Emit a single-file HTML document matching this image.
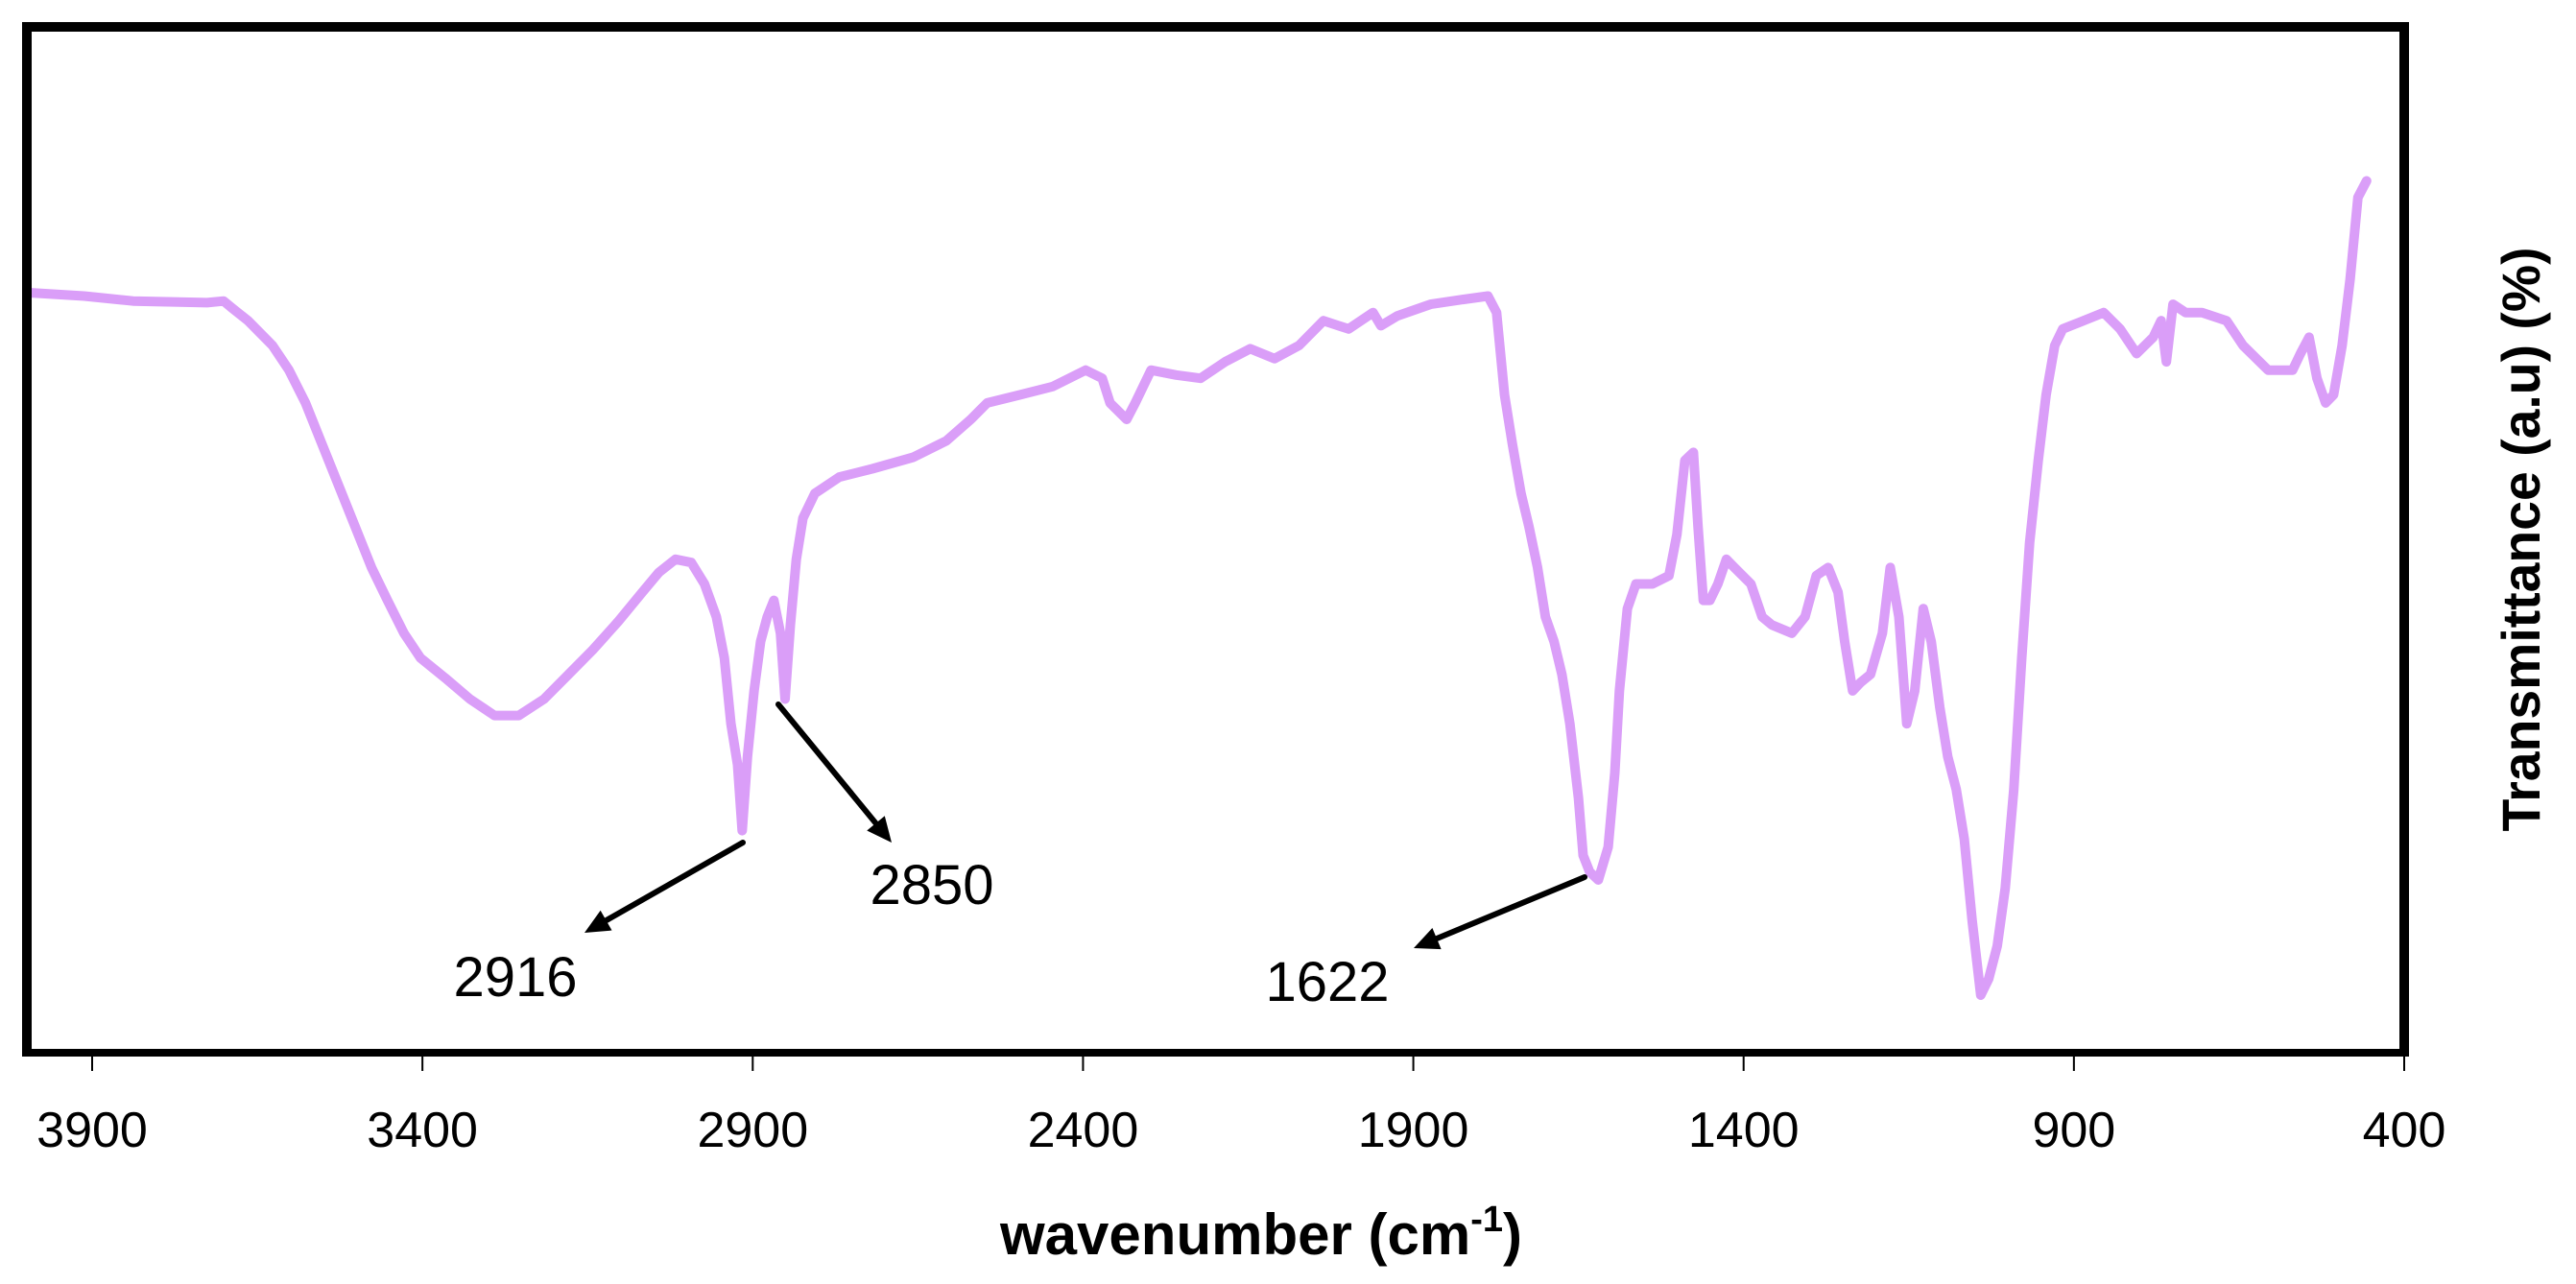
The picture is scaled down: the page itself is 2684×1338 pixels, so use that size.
<!DOCTYPE html>
<html><head><meta charset="utf-8"><style>
html,body{margin:0;padding:0;background:#fff;}
svg{display:block;}
text{font-family:"Liberation Sans",Arial,sans-serif;fill:#000;}
</style></head><body>
<svg id="chart" width="2684" height="1338" viewBox="0 0 2684 1338" xmlns="http://www.w3.org/2000/svg">
<rect x="0" y="0" width="2684" height="1338" fill="#fff"/>
<g id="plot"></g>
<g id="frame">
<rect x="23" y="23" width="2487" height="10" fill="#000"/>
<rect x="23" y="23" width="10" height="1078" fill="#000"/>
<rect x="23" y="1093" width="2487" height="8" fill="#000"/>
<rect x="2500" y="23" width="10" height="1078" fill="#000"/>
</g>
<g id="xaxis"></g>
<text x="1314" y="1307" font-size="60" font-weight="bold" text-anchor="middle">wavenumber (cm<tspan font-size="38" dy="-24">-1</tspan><tspan dy="24">)</tspan></text>
<text transform="translate(2646,562) rotate(-90)" font-size="56" font-weight="bold" text-anchor="middle" textLength="609" lengthAdjust="spacingAndGlyphs">Transmittance (a.u) (%)</text>
<g id="annots"></g>
</svg>
<script>
// Data
const wavenumbers = [3992,3912,3838,3726,3701,3689,3664,3627,3602,3577,3552,3527,3502,3477,3453,3428,3403,3366,3328,3291,3254,3216,3179,3142,3104,3067,3042,3017,2993,2973,2955,2943,2933,2923,2916,2908,2898,2888,2878,2868,2858,2851,2843,2834,2824,2806,2769,2719,2657,2607,2570,2545,2495,2446,2396,2371,2359,2334,2321,2297,2259,2222,2185,2147,2110,2073,2036,1998,1961,1949,1924,1874,1824,1787,1774,1762,1750,1737,1725,1712,1700,1687,1675,1663,1650,1643,1633,1620,1605,1595,1588,1576,1563,1538,1513,1501,1489,1476,1469,1461,1451,1439,1426,1414,1389,1372,1357,1327,1307,1290,1272,1257,1247,1235,1223,1208,1190,1178,1165,1153,1141,1128,1116,1103,1091,1078,1066,1054,1041,1029,1016,1004,991,979,967,954,942,929,917,892,855,830,805,780,768,760,750,731,706,669,644,606,569,557,544,532,519,507,494,482,470,457,445];
const transmittance = [462,460,457,456,457,453,445,430,415,395,370,345,320,295,275,255,240,228,215,205,205,215,230,245,262,280,292,300,298,285,265,240,200,175,135,180,220,250,265,275,255,215,260,300,325,340,350,355,362,372,385,395,400,405,415,410,395,385,395,415,412,410,420,428,422,430,445,440,450,442,448,455,458,460,450,400,370,340,320,295,265,250,230,200,155,120,110,105,125,170,220,270,285,285,290,315,360,365,320,275,275,285,300,295,285,265,260,255,265,290,295,280,250,220,225,230,255,295,265,200,220,270,250,210,180,160,130,80,35,45,65,100,160,240,310,360,400,430,440,444,450,440,425,435,445,420,455,450,450,445,430,415,415,425,435,410,395,400,430,470,520,530];
const xTicks = [3900,3400,2900,2400,1900,1400,900,400];
const peakLabels = ["2916","2850","1622"];

// Axis functions
const X0=96, X1=2505, W0=3900, W1=400;
function xs(w){return X0+(W0-w)*(X1-X0)/(W0-W1);}
const YB=1097, TMAX=640;
function ys(t){return YB - t*(YB/TMAX);}

const NS="http://www.w3.org/2000/svg";
const plot=document.getElementById('plot');
let d="";
for(let i=0;i<wavenumbers.length;i++){
  const x=Math.max(28,xs(wavenumbers[i]));
  d+=(i?"L":"M")+x.toFixed(1)+","+ys(transmittance[i]).toFixed(1);
}
const path=document.createElementNS(NS,'path');
path.setAttribute('d',d);
path.setAttribute('fill','none');
path.setAttribute('stroke','#DA9EF8');
path.setAttribute('stroke-width','10');
path.setAttribute('stroke-linejoin','round');
path.setAttribute('stroke-linecap','round');


plot.appendChild(path);

const xaxis=document.getElementById('xaxis');
xTicks.forEach(v=>{
  const t=document.createElementNS(NS,'line');
  t.setAttribute('x1',xs(v));t.setAttribute('x2',xs(v));
  t.setAttribute('y1',1101);t.setAttribute('y2',1116);
  t.setAttribute('stroke','#000');t.setAttribute('stroke-width','2');
  
  
  xaxis.appendChild(t);
  const l=document.createElementNS(NS,'text');
  l.setAttribute('x',xs(v));l.setAttribute('y',1195);
  l.setAttribute('font-size','52');l.setAttribute('text-anchor','middle');
  l.textContent=v;
  
  
  xaxis.appendChild(l);
});

// annotations (arrows from peak to label)
const ann=document.getElementById('annots');
const arrowSpec=[[774,878,609,972,537,1038],[811,734,929,878,971,942],[1651,914,1473,988,1383,1043]];
arrowSpec.forEach((a,i)=>{
  const dx=a[2]-a[0], dy=a[3]-a[1], L=Math.hypot(dx,dy), ux=dx/L, uy=dy/L;
  const hl=26, hw=12;
  const bx=a[2]-ux*hl, by=a[3]-uy*hl;
  const ln=document.createElementNS(NS,'line');
  ln.setAttribute('x1',a[0]);ln.setAttribute('y1',a[1]);
  ln.setAttribute('x2',bx);ln.setAttribute('y2',by);
  ln.setAttribute('stroke','#000');ln.setAttribute('stroke-width','6');
  ln.setAttribute('stroke-linecap','round');
  
  
  ann.appendChild(ln);
  const hd=document.createElementNS(NS,'polygon');
  hd.setAttribute('points',`${a[2]},${a[3]} ${bx-uy*hw},${by+ux*hw} ${bx+uy*hw},${by-ux*hw}`);
  hd.setAttribute('fill','#000');
  
  
  ann.appendChild(hd);
  const tx=document.createElementNS(NS,'text');
  tx.setAttribute('x',a[4]);tx.setAttribute('y',a[5]);
  tx.setAttribute('font-size','58');tx.setAttribute('text-anchor','middle');
  tx.textContent=peakLabels[i];
  
  
  ann.appendChild(tx);
});
</script>
</body></html>
